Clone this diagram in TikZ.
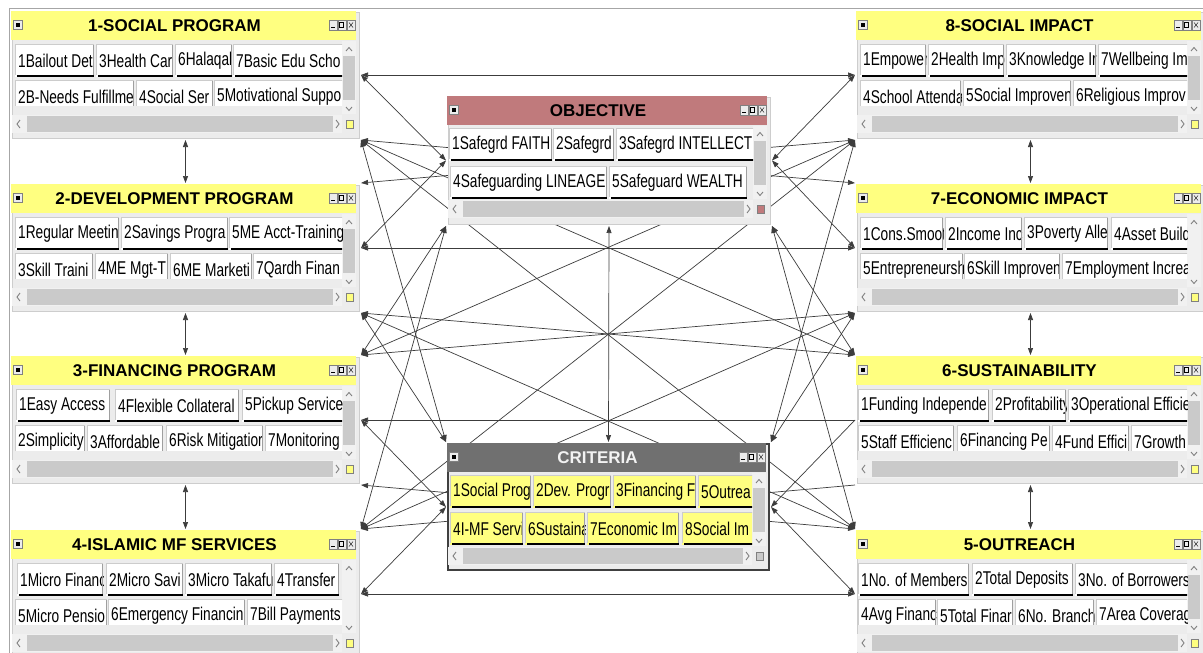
\documentclass[tikz,border=0pt]{standalone}
\usepackage{fontspec}
\setmainfont{Liberation Sans}
\newfontfamily\btnfont[FakeStretch=0.74]{Liberation Sans}
\usetikzlibrary{arrows.meta}
\pgfdeclarelayer{canvas}
\pgfdeclarelayer{links}
\pgfsetlayers{canvas,links,main}

\definecolor{baryellow}{RGB}{255,255,128}
\definecolor{barrose}{RGB}{192,122,124}
\definecolor{bargrey}{RGB}{112,112,112}
\definecolor{winbg}{RGB}{236,236,236}
\definecolor{winedge}{RGB}{205,205,205}
\definecolor{thumb}{RGB}{202,202,202}
\definecolor{track}{RGB}{241,241,241}
\definecolor{linkcol}{RGB}{60,60,60}

\tikzset{
  win/.style={rectangle, draw=winedge, fill=winbg, line width=1pt, inner sep=0pt,
    outer sep=2pt, anchor=north west},
  wintitle/.style={font=\fontsize{17}{17}\selectfont\bfseries, inner sep=0pt},
  btntext/.style={font=\btnfont\fontsize{18.5}{18.5}\selectfont, anchor=west, inner sep=0pt},
  chev/.style={gray, line width=0.9pt},
  link/.style={draw=linkcol, line width=0.7pt},
  lk2/.style={link, {Triangle[length=7pt,width=5pt]}-{Triangle[length=7pt,width=5pt]}},
  lkend/.style={link, -{Triangle[length=7pt,width=5pt]}},
  lkstart/.style={link, {Triangle[length=7pt,width=5pt]}-},
}

% window decoration: x, y, width, height, bar colour, title colour, title
\newcommand\winpaint[7]{%
  \fill[#5] (#1+1,#2+1) rectangle (#1+#3-1,#2+30);
  \node[wintitle, text=#6] at (#1+#3/2-9,#2+16) {#7};
  \draw[fill=winbg, draw=gray] (#1+3,#2+10.5) rectangle +(9,9);
  \fill (#1+5.5,#2+13) rectangle +(4,4);
  \foreach \k in {0,1,2}{\draw[fill=winbg, draw=gray] (#1+#3-28+9*\k,#2+10) rectangle +(8,10);}
  \draw (#1+#3-26,#2+17.5) -- +(4,0);
  \draw (#1+#3-17.5,#2+12.5) rectangle +(4,5);
  \draw (#1+#3-8,#2+12.5) -- +(4,5) (#1+#3-8,#2+17.5) -- +(4,-5);
  % vertical scroll bar
  \fill[track] (#1+#3-15,#2+31) rectangle (#1+#3-1.5,#2+104);
  \draw[chev] (#1+#3-11,#2+41) -- (#1+#3-8,#2+37.5) -- (#1+#3-5,#2+41);
  \draw[chev] (#1+#3-11,#2+97) -- (#1+#3-8,#2+100.5) -- (#1+#3-5,#2+97);
  % horizontal scroll bar
  \fill[track] (#1+2,#2+105) rectangle (#1+#3-15,#2+123);
  \fill[thumb] (#1+17,#2+106) rectangle (#1+#3-24,#2+122);
  \draw[chev] (#1+10,#2+110) -- (#1+7,#2+114) -- (#1+10,#2+118);
  \draw[chev] (#1+#3-21,#2+110) -- (#1+#3-18,#2+114) -- (#1+#3-21,#2+118);
}
\newcommand\grip[4]{\fill[#4, draw=gray] (#1+#3-11,#2+110) rectangle +(7,8);}
\newcommand\vthumb[3]{\fill[thumb] (#1+#3-14,#2+46) rectangle (#1+#3-2.5,#2+90);}

% one push button: [fill] x, top, width, label
\newcommand\btn[5][white]{%
  \begin{scope}
    \clip (#2,#3) rectangle +(#4,33);
    \fill[#1] (#2,#3) rectangle +(#4,33);
    \node[btntext] at (#2+3,#3+17) {#5};
  \end{scope}
  \draw[gray!40] (#2+0.5,#3+31) -- (#2+0.5,#3+0.5) -- (#2+#4-0.5,#3+0.5);
  \draw[gray!75] (#2+#4-0.5,#3+1) -- (#2+#4-0.5,#3+32);
  \draw[black, line width=2pt] (#2+2,#3+32) -- (#2+#4,#3+32);
}

\begin{document}
\begin{tikzpicture}[x=1pt, y=-1pt]
\useasboundingbox (0,0) rectangle (1203,653);
\begin{pgfonlayer}{canvas}
  \fill[white] (0,0) rectangle (1203,653);
  \draw[gray!70, line width=1pt] (9,660) -- (9,8) -- (1210,8);
\end{pgfonlayer}

% ---------- left column ----------
\node[win, minimum width=347pt, minimum height=126pt] (L1) at (10,10) {};
\winpaint{10}{10}{347}{126}{baryellow}{black}{1-SOCIAL PROGRAM}
\vthumb{10}{10}{347}\grip{10}{10}{347}{baryellow}
\begin{scope}
  \clip (13,41) rectangle (342,105);
  \btn{15}{44}{79}{1Bailout Det}
  \btn{96}{44}{77}{3Health Car}
  \btn{175}{44}{57}{6Halaqal}
  \btn{233}{44}{112}{7Basic Edu Scho}
  \btn{15}{80}{119}{2B-Needs Fulfillme}
  \btn{136}{80}{77}{4Social Ser}
  \btn{214}{80}{130}{5Motivational Suppo}
\end{scope}

\node[win, minimum width=347pt, minimum height=126pt] (L2) at (10,183) {};
\winpaint{10}{183}{347}{126}{baryellow}{black}{2-DEVELOPMENT PROGRAM}
\vthumb{10}{183}{347}\grip{10}{183}{347}{baryellow}
\begin{scope}
  \clip (13,214) rectangle (342,278);
  \btn{15}{217}{104}{1Regular Meetin}
  \btn{121}{217}{107}{2Savings Progra}
  \btn{229}{217}{116}{5ME Acct-Training}
  \btn{15}{253}{78}{3Skill Traini}
  \btn{95}{253}{73}{4ME Mgt-T}
  \btn{170}{253}{82}{6ME Marketi}
  \btn{253}{253}{92}{7Qardh Finan}
\end{scope}

\node[win, minimum width=347pt, minimum height=126pt] (L3) at (10,355) {};
\winpaint{10}{355}{347}{126}{baryellow}{black}{3-FINANCING PROGRAM}
\vthumb{10}{355}{347}\grip{10}{355}{347}{baryellow}
\begin{scope}
  \clip (13,386) rectangle (342,450);
  \btn{16}{389}{94}{1Easy Access}
  \btn{115}{389}{124}{4Flexible Collateral}
  \btn{242}{389}{103}{5Pickup Service}
  \btn{15}{425}{70}{2Simplicity}
  \btn{87}{425}{76}{3Affordable}
  \btn{166}{425}{97}{6Risk Mitigatior}
  \btn{265}{425}{80}{7Monitoring}
\end{scope}

\node[win, minimum width=347pt, minimum height=126pt] (L4) at (10,529) {};
\winpaint{10}{529}{347}{126}{baryellow}{black}{4-ISLAMIC MF SERVICES}
\grip{10}{529}{347}{baryellow}
\begin{scope}
  \clip (13,560) rectangle (342,624);
  \btn{17}{563}{86}{1Micro Financ}
  \btn{106}{563}{77}{2Micro Savi}
  \btn{185}{563}{87}{3Micro Takafu}
  \btn{274}{563}{65}{4Transfer}
  \btn{15}{599}{92}{5Micro Pensio}
  \btn{108}{599}{137}{6Emergency Financin}
  \btn{247}{599}{98}{7Bill Payments}
\end{scope}

% ---------- right column ----------
\node[win, minimum width=347pt, minimum height=126pt] (R8) at (855,10) {};
\winpaint{855}{10}{347}{126}{baryellow}{black}{8-SOCIAL IMPACT}
\vthumb{855}{10}{347}\grip{855}{10}{347}{baryellow}
\begin{scope}
  \clip (858,41) rectangle (1187,105);
  \btn{860}{44}{66}{1Empower}
  \btn{928}{44}{76}{2Health Imp}
  \btn{1006}{44}{90}{3Knowledge Ir}
  \btn{1098}{44}{95}{7Wellbeing Im}
  \btn{860}{80}{101}{4School Attenda}
  \btn{963}{80}{108}{5Social Improven}
  \btn{1073}{80}{120}{6Religious Improv}
\end{scope}

\node[win, minimum width=347pt, minimum height=126pt] (R7) at (855,183) {};
\winpaint{855}{183}{347}{126}{baryellow}{black}{7-ECONOMIC IMPACT}
\grip{855}{183}{347}{baryellow}
\begin{scope}
  \clip (858,214) rectangle (1187,278);
  \btn{860}{217}{83}{1Cons.Smoot}
  \btn{945}{217}{77}{2Income Inc}
  \btn{1024}{217}{84}{3Poverty Alle}
  \btn{1111}{217}{80}{4Asset Build}
  \btn{860}{253}{103}{5Entrepreneursh}
  \btn{964}{253}{96}{6Skill Improven}
  \btn{1062}{253}{130}{7Employment Increa}
\end{scope}

\node[win, minimum width=347pt, minimum height=126pt] (R6) at (855,355) {};
\winpaint{855}{355}{347}{126}{baryellow}{black}{6-SUSTAINABILITY}
\vthumb{855}{355}{347}\grip{855}{355}{347}{baryellow}
\begin{scope}
  \clip (858,386) rectangle (1187,450);
  \btn{858}{389}{131}{1Funding Independe}
  \btn{992}{389}{74}{2Profitability}
  \btn{1068}{389}{125}{3Operational Efficie}
  \btn{858}{425}{96}{5Staff Efficienc}
  \btn{957}{425}{93}{6Financing Pe}
  \btn{1052}{425}{77}{4Fund Effici}
  \btn{1131}{425}{62}{7Growth}
\end{scope}

\node[win, minimum width=347pt, minimum height=126pt] (R5) at (855,529) {};
\winpaint{855}{529}{347}{126}{baryellow}{black}{5-OUTREACH}
\vthumb{855}{529}{347}\grip{855}{529}{347}{baryellow}
\begin{scope}
  \clip (858,560) rectangle (1187,624);
  \btn{858}{563}{111}{1No. of Members}
  \btn{972}{563}{101}{2Total Deposits}
  \btn{1075}{563}{118}{3No. of Borrowers}
  \btn{858}{599}{78}{4Avg Financ}
  \btn{937}{599}{76}{5Total Finar}
  \btn{1015}{599}{79}{6No. Branch}
  \btn{1096}{599}{97}{7Area Coverag}
\end{scope}

% ---------- centre: objective and criteria ----------
\node[win, minimum width=322pt, minimum height=127pt] (OBJ) at (446,95) {};
\winpaint{446}{95}{322}{127}{barrose}{black}{OBJECTIVE}
\vthumb{446}{95}{322}\grip{446}{95}{322}{barrose}
\begin{scope}
  \clip (449,126) rectangle (753,200);
  \btn{449}{128}{103}{1Safegrd FAITH}
  \btn{553}{128}{61}{2Safegrd}
  \btn{616}{128}{140}{3Safegrd INTELLECT}
  \btn{450}{166}{157}{4Safeguarding LINEAGE}
  \btn{609}{166}{138}{5Safeguard WEALTH}
\end{scope}

\node[win, minimum width=321pt, minimum height=126pt, draw=black!75, line width=1.5pt] (CRT) at (446,442) {};
\winpaint{446}{442}{321}{126}{bargrey}{white!95!black}{CRITERIA}
\vthumb{446}{442}{321}\grip{446}{442}{321}{thumb}
\begin{scope}
  \clip (449,473) rectangle (752,546);
  \btn[baryellow]{450}{475}{81}{1Social Prog}
  \btn[baryellow]{533}{475}{78}{2Dev. Progr}
  \btn[baryellow]{613}{475}{83}{3Financing F}
  \btn[baryellow]{698}{475}{60}{5Outrea}
  \btn[baryellow]{450}{512}{73}{4I-MF Servi}
  \btn[baryellow]{525}{512}{60}{6Sustaina}
  \btn[baryellow]{587}{512}{92}{7Economic Im}
  \btn[baryellow]{682}{512}{75}{8Social Im}
\end{scope}

% ---------- connections between clusters ----------
\begin{pgfonlayer}{links}
  % neighbours stacked in one column
  \foreach \a/\b in {L1/L2,L2/L3,L3/L4,R8/R7,R7/R6,R6/R5,OBJ/CRT}
    \draw[lk2] (\a.south) -- (\b.north);
  % clusters facing each other on one row
  \draw[lk2] (L1.east) -- (R8.west);
  \draw[lk2] (L2.east) -- (R7.west);
  \draw[lkstart] (L3.east) -- (R6.west);
  \draw[lk2] (L4.east) -- (R5.west);
  % objective
  \draw[lk2] (L1.east) -- (OBJ.west);
  \draw[lk2] (L2.east) -- (OBJ.west);
  \draw[lk2] (L3.north east) -- (OBJ.south west);
  \draw[lk2] (L4.north east) -- (OBJ.south west);
  \draw[lk2] (R8.west) -- (OBJ.east);
  \draw[lk2] (R7.west) -- (OBJ.east);
  \draw[lk2] (R6.north west) -- (OBJ.south east);
  \draw[lk2] (R5.north west) -- (OBJ.south east);
  % criteria
  \draw[lk2] (L1.south east) -- (CRT.north west);
  \draw[lk2] (L2.south east) -- (CRT.north west);
  \draw[lk2] (L3.east) -- (CRT.west);
  \draw[lk2] (L4.east) -- (CRT.west);
  \draw[lk2] (R8.south west) -- (CRT.north east);
  \draw[lk2] (R7.south west) -- (CRT.north east);
  \draw[lkend] (R6.west) -- (CRT.east);
  \draw[lk2] (R5.west) -- (CRT.east);
  % diagonals across the centre
  \draw[lk2] (L1.south east) -- (R7.north west);
  \draw[lk2] (L1.south east) -- (R6.north west);
  \draw[lk2] (L1.south east) -- (R5.north west);
  \draw[lk2] (L2.north east) -- (R8.south west);
  \draw[lk2] (L2.south east) -- (R6.north west);
  \draw[lk2] (L2.south east) -- (R5.north west);
  \draw[lk2] (L3.north east) -- (R8.south west);
  \draw[lk2] (L3.north east) -- (R7.south west);
  \draw[lk2] (L3.south east) -- (R5.north west);
  \draw[lk2] (L4.north east) -- (R8.south west);
  \draw[lk2] (L4.north east) -- (R7.south west);
  \draw[lkstart] (L4.north east) -- (R6.south west);
\end{pgfonlayer}
\end{tikzpicture}
\end{document}
